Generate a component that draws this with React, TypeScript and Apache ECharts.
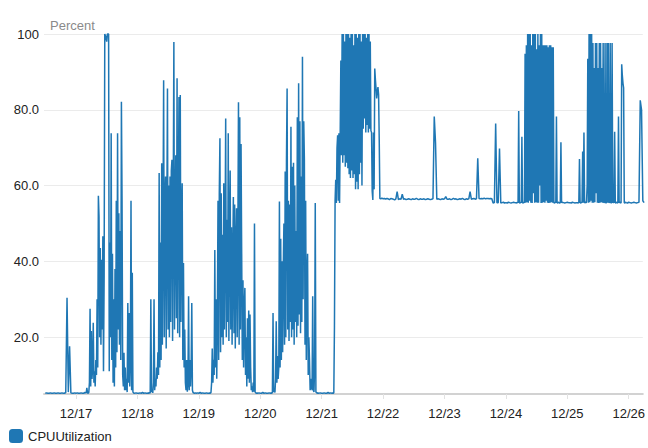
import React, { useEffect, useRef } from 'react';
import * as echarts from 'echarts';

// ---- labels / axis settings ----
const SERIES_NAME = 'CPUUtilization';
const Y_AXIS_NAME = 'Percent';
const YEAR = 2017;
const MONTH = 11; // December (0-based)
const AXIS_START = { day: 16, hour: 11, minute: 30 };
const AXIS_END = { day: 26, hour: 5, minute: 30 };
const X_TICK_DAYS = [17, 18, 19, 20, 21, 22, 23, 24, 25, 26];
const Y_TICKS = [20, 40, 60, 80, 100];
const Y_MIN = 5;
const Y_MAX = 100;

// ---- series values (quiet periods: 30-minute samples, busy periods: 15-minute samples) ----
// 12/16 12:00 -> 12/17 03:30, every 30 min
const quiet16to17 = [5.2, 5.3, 5.2, 5.2, 5.3, 5.2, 5.2, 5.3, 5.2, 5.2, 5.3, 5.2, 5.2, 5.3, 5.2, 5.2, 5.4, 30.4, 5.5, 17.6, 5.3, 5.2, 5.2, 5.3, 5.2, 5.3, 5.2, 5.2, 5.3, 5.2, 5.2, 5.4];
// 12/17 04:00 -> 22:45, every 15 min
const busy17 = [5.3, 6.6, 5.3, 5.2, 5.4, 8, 27.5, 7, 21.6, 9, 12, 23.8, 8, 11, 7, 14, 10, 30, 12, 57.3, 51.8, 20, 43.5, 18, 40.4, 22, 46.6, 11, 36, 100, 100, 99, 98, 100, 100, 100, 11, 45, 20, 73.8, 14, 42, 8, 30, 7, 38, 12, 56, 16, 73.8, 22, 52.7, 18, 48, 14, 82.1, 56, 10, 7, 15.9, 6, 12, 6, 9, 5.5, 29, 8, 26.4, 7, 14, 56, 6, 37, 5.5, 5.3, 5.2];
// 12/17 23:00 -> 12/18 03:30, every 30 min
const quiet17to18 = [5.2, 5.3, 5.2, 5.2, 5.3, 5.2, 5.4, 5.2, 5.3, 5.2];
// 12/18 04:00 -> 22:45, every 15 min
const busy18 = [5.2, 5.3, 5.2, 5.4, 5.2, 30, 5.5, 6, 5.3, 8, 30, 6, 9, 7, 12, 9, 16, 10, 63.3, 12, 45, 14, 65.9, 18, 50, 87.8, 20, 55, 62.4, 17, 52, 85.6, 22, 60, 20, 62.4, 24, 64, 66.8, 19, 56, 97.9, 22, 50, 68, 25, 88.3, 21, 58, 83.4, 20, 83.9, 24, 52, 60.6, 14, 39.6, 12, 22, 8, 6, 14, 5.6, 8, 30.8, 6, 14, 7, 12, 29, 6, 5.4, 5.3, 5.2, 5.2, 5.3];
const quiet18to19 = [5.2, 5.3, 5.2, 5.4, 5.2, 5.3, 5.2, 5.2, 5.3, 5.2];
const busy19 = [5.2, 5.3, 5.2, 5.4, 8, 17, 8, 14, 10, 43, 12, 30, 9, 26, 56, 14, 58, 72.5, 16, 58, 20, 47, 18, 60.6, 22, 45, 77.7, 20, 51, 24, 73.8, 19, 48, 64, 22, 49, 18, 40, 57, 21, 55, 17, 44, 54, 20, 46, 82, 18, 78, 22, 71, 42, 14, 35, 12, 28, 33, 10, 20, 7, 25, 9, 27, 8, 26, 12, 6, 7, 5.5, 8, 5.6, 50, 5.5, 5.3, 5.2, 5.3];
const quiet19to20 = [5.2, 5.3, 5.2, 5.2, 5.4, 5.2, 5.3, 5.2, 5.2, 5.3];
const busy20 = [5.2, 5.3, 5.2, 5.4, 26.4, 5.5, 6, 5.4, 9, 24.2, 8, 15, 9, 12, 55.8, 12, 46, 14, 40, 16, 38, 50, 18, 63.7, 20, 66.8, 85.6, 22, 56, 19, 55, 24, 75.5, 20, 65, 22, 66, 18, 60, 24, 48, 20, 78, 23, 87, 26, 77, 21, 62.4, 24, 94, 30, 77, 66.8, 18, 56, 14, 35, 42, 10, 20, 14, 6, 7, 9, 6, 30.8, 6, 5.5, 12, 55.4, 5.5, 5.4, 5.2, 5.3, 5.2];
const quiet20to21 = [5.2, 5.3, 5.2, 5.2, 5.3, 5.2, 5.2, 5.4, 5.2, 5.3];
// 12/21 04:00 -> 23:45, every 15 min
const busy21 = [5.2, 5.3, 5.2, 5.3, 22.6, 56, 61.5, 55.4, 70, 73.3, 56, 73.8, 55.4, 74, 93, 68, 100, 66, 100, 68, 98, 65, 100, 66, 100, 64.6, 100, 63, 99, 62, 100, 64, 100, 62, 97, 63, 100, 59, 100, 61, 99, 59, 100, 63, 100, 66, 98, 60, 100, 75, 100, 77.7, 100, 74, 99, 76, 100, 74, 100, 75, 98, 74.5, 74, 58.6, 56.2, 74, 59, 90.9, 88, 85.6, 83, 84.7, 86, 84, 72, 56.6, 56.6, 56.5, 56.7, 56.6];
// 12/22 00:00 -> 12/24 03:30, every 30 min
const plateau22 = [56.5, 56.6, 56.4, 56.6, 56.5, 56.3, 56.6, 56.5, 56.4, 56.2, 56.5, 58.4, 56.3, 56.5, 56.4, 57.7, 56.4, 56.5, 56.3, 56.4, 56.5, 56.4, 56.3, 56.5, 56.4, 56.4, 56.6, 56.4, 56.3, 56.5, 56.4, 56.4, 56.5, 56.3, 56.4, 56.5, 56.4, 56.3, 56.4, 56.5, 78.2, 71.2, 56.4, 56.5, 56.4, 56.3, 56.5, 56.4];
const plateau23 = [56.5, 57.1, 56.4, 56.4, 56.5, 56.3, 56.4, 56.6, 56.4, 56.5, 56.3, 56.4, 56.5, 56.4, 56.6, 56.4, 56.3, 56.5, 56.4, 56.5, 58.4, 56.4, 56.5, 56.6, 56.4, 56.5, 67.2, 56.6, 56.5, 56.6, 56.5, 56.7, 56.5, 56.6, 56.6, 56.5, 56.6, 56.5, 55.4, 55.5, 76.4, 55.5, 55.5, 69.8, 55.4, 55.5, 55.6, 55.4];
const plateau24early = [55.5, 55.4, 55.6, 55.5, 55.4, 55.5, 55.6, 55.5];
// 12/24 04:00 -> 21:45, every 15 min
const busy24 = [55.5, 55.4, 55.6, 55.5, 79.7, 55.5, 55.4, 55.6, 55.5, 72.9, 55.5, 55.4, 55.6, 55.5, 94.8, 55.5, 97, 55.6, 100, 55.5, 100, 56, 100, 55.5, 97, 55.4, 100, 58, 100, 55.5, 100, 55.6, 96, 55.5, 100, 55.5, 97, 60, 100, 55.4, 100, 55.5, 97, 55.6, 97, 55.5, 97, 56, 97, 55.5, 96.5, 55.4, 97, 55.5, 97, 55.6, 96.5, 55.5, 96.5, 55.5, 55.4, 55.6, 55.5, 78.2, 55.5, 55.4, 55.6, 55.5, 55.4, 55.5, 71.4, 55.5];
// 12/24 22:00 -> 12/25 03:30, every 30 min
const quiet24to25 = [55.6, 55.5, 55.4, 55.5, 55.6, 55.5, 55.5, 55.4, 55.6, 55.5, 55.4, 55.5];
// 12/25 04:00 -> 22:45, every 15 min
const busy25 = [55.5, 55.4, 55.6, 67, 55.5, 55.4, 55.6, 55.5, 69, 55.5, 74, 55.4, 55.6, 55.5, 55.6, 60, 93.5, 55.5, 100, 55.6, 100, 56, 100, 55.5, 97.6, 55.5, 91, 55.6, 97.6, 58, 97.6, 55.5, 91, 55.4, 97.6, 55.5, 97.6, 55.6, 91, 55.5, 97.6, 55.5, 55.6, 97.6, 55.5, 55.4, 97.6, 55.5, 97.6, 55.6, 55.5, 97.6, 55.5, 55.4, 97.6, 55.5, 55.6, 55.5, 74.2, 55.5, 55.4, 55.6, 55.5, 55.4, 78.2, 55.5, 55.6, 55.5, 55.4, 92, 89, 87, 85.8, 55.5, 55.4, 55.6];
// 12/25 23:00 -> 12/26 06:00, every 30 min
const quiet25to26 = [55.5, 55.4, 55.6, 55.5, 55.4, 55.5, 55.6, 55.5, 55.4, 55.5, 55.6, 82.5, 80, 56, 55.5];

// segment start (day, hour, minute) and sampling step in minutes
const SEGMENTS = [
  { day: 16, hour: 12, minute: 0, step: 30, values: quiet16to17 },
  { day: 17, hour: 4, minute: 0, step: 15, values: busy17 },
  { day: 17, hour: 23, minute: 0, step: 30, values: quiet17to18 },
  { day: 18, hour: 4, minute: 0, step: 15, values: busy18 },
  { day: 18, hour: 23, minute: 0, step: 30, values: quiet18to19 },
  { day: 19, hour: 4, minute: 0, step: 15, values: busy19 },
  { day: 19, hour: 23, minute: 0, step: 30, values: quiet19to20 },
  { day: 20, hour: 4, minute: 0, step: 15, values: busy20 },
  { day: 20, hour: 23, minute: 0, step: 30, values: quiet20to21 },
  { day: 21, hour: 4, minute: 0, step: 15, values: busy21 },
  { day: 22, hour: 0, minute: 0, step: 30, values: [...plateau22, ...plateau23, ...plateau24early] },
  { day: 24, hour: 4, minute: 0, step: 15, values: busy24 },
  { day: 24, hour: 22, minute: 0, step: 30, values: quiet24to25 },
  { day: 25, hour: 4, minute: 0, step: 15, values: busy25 },
  { day: 25, hour: 23, minute: 0, step: 30, values: quiet25to26 },
];

const LINE_COLOR = '#1f77b4';
const FONT = '"Liberation Sans", Arial, Helvetica, sans-serif';

function ts(p: { day: number; hour: number; minute: number }) {
  return new Date(YEAR, MONTH, p.day, p.hour, p.minute).getTime();
}

export default function App() {
  const ref = useRef<HTMLDivElement>(null);

  useEffect(() => {
    if (!ref.current) return;
    const chart = echarts.init(ref.current, null, { renderer: 'svg' });
    const data: number[][] = [];
    SEGMENTS.forEach((seg) => {
      const t0 = ts(seg);
      seg.values.forEach((v, i) => data.push([t0 + i * seg.step * 60000, v]));
    });
    const xTicks = X_TICK_DAYS.map((d) => new Date(YEAR, MONTH, d).getTime());

    chart.setOption({
      animation: false,
      grid: { left: 44, right: 0, top: 34, bottom: 54, containLabel: false },
      legend: {
        data: [SERIES_NAME],
        left: 4,
        top: 424,
        icon: 'roundRect',
        itemWidth: 14,
        itemHeight: 14,
        itemGap: 10,
        textStyle: { color: '#222', fontSize: 13, fontFamily: FONT },
      },
      graphic: [
        {
          type: 'text',
          left: 50,
          top: 19,
          style: { text: Y_AXIS_NAME, fill: '#8a8a8a', fontSize: 13, fontFamily: FONT },
        },
      ],
      xAxis: {
        type: 'value',
        min: ts(AXIS_START),
        max: ts(AXIS_END),
        axisLine: { show: true, lineStyle: { color: '#d2d2d2', width: 2 } },
        axisTick: { show: true, length: 5, customValues: xTicks, lineStyle: { color: '#e2e2e2' } },
        axisLabel: {
          customValues: xTicks,
          color: '#222',
          fontSize: 13,
          fontFamily: FONT,
          margin: 13,
          formatter: (v: number) => {
            const d = new Date(v);
            return `${d.getMonth() + 1}/${d.getDate()}`;
          },
        },
        splitLine: { show: false },
      },
      yAxis: {
        type: 'value',
        min: Y_MIN,
        max: Y_MAX,
        axisLine: { show: false },
        axisTick: { show: false, customValues: Y_TICKS },
        axisLabel: {
          customValues: Y_TICKS,
          color: '#222',
          fontSize: 13,
          fontFamily: FONT,
          margin: 5,
          formatter: (v: number) => (v === 100 ? '100' : v.toFixed(1)),
        },
        splitLine: { show: true, lineStyle: { color: '#ebebeb', width: 1 } },
      },
      series: [
        {
          name: SERIES_NAME,
          type: 'line',
          data,
          showSymbol: false,
          symbol: 'none',
          clip: false,
          color: LINE_COLOR,
          itemStyle: { color: LINE_COLOR },
          lineStyle: { color: LINE_COLOR, width: 1.5 },
        },
      ],
    });
    return () => chart.dispose();
  }, []);

  return (
    <div
      ref={ref}
      style={{ position: 'fixed', left: 0, top: 0, width: 648, height: 448, background: '#fff' }}
    />
  );
}
